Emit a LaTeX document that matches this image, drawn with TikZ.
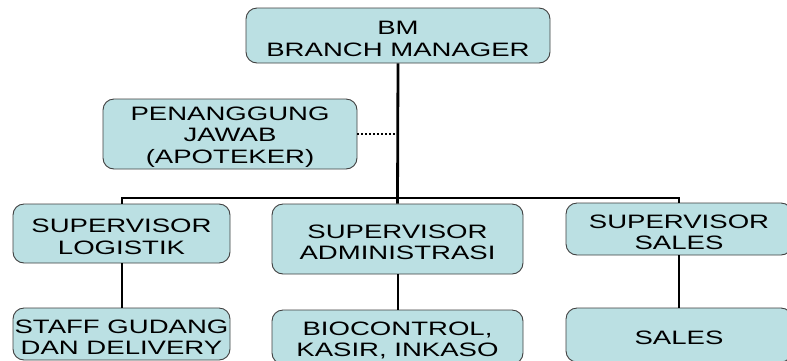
\documentclass[tikz,border=0pt]{standalone}
\usepackage{fontspec}
\setmainfont{Liberation Sans}[FakeStretch=1.42]
\definecolor{boxfill}{HTML}{BBE0E3}
\definecolor{boxline}{HTML}{404040}
\newcommand{\topstrut}{\rule{0pt}{20pt}}
\tikzset{
  orgbox/.style={draw=boxline, line width=0.9pt, fill=boxfill, rounded corners=11pt,
    inner sep=0pt, align=center, font=\fontsize{19.4}{21.2}\selectfont},
  link/.style={line width=2pt, draw=black},
  mainlink/.style={line width=2.8pt, draw=black},
  dotlink/.style={line width=1.4pt, dash pattern=on 2pt off 2pt}
}
\begin{document}
\begin{tikzpicture}[x=1pt,y=-1pt]
\clip (0,0) rectangle (787,360);
\fill[white] (0,0) rectangle (787,360);
% boxes
\node[orgbox, minimum width=304pt, minimum height=55pt] (bm) at (398,35.5) {\topstrut BM\\BRANCH MANAGER};
\node[orgbox, minimum width=254pt, minimum height=70pt] (pj) at (230,134) {\topstrut PENANGGUNG\\JAWAB\\(APOTEKER)};
\node[orgbox, minimum width=217pt, minimum height=59pt] (sl) at (121.5,233.5) {\topstrut SUPERVISOR\\LOGISTIK};
\node[orgbox, minimum width=251pt, minimum height=70pt] (sa) at (397.5,239) {\topstrut SUPERVISOR\\ADMINISTRASI};
\node[orgbox, minimum width=226pt, minimum height=52pt] (ss) at (679,229) {\topstrut SUPERVISOR\\SALES};
\node[orgbox, minimum width=217pt, minimum height=52pt] (st) at (121.5,334) {\topstrut STAFF GUDANG\\DAN DELIVERY};
\node[orgbox, minimum width=251pt, minimum height=54pt] (bc) at (397.5,337) {\topstrut BIOCONTROL,\\KASIR, INKASO};
\node[orgbox, minimum width=226pt, minimum height=54pt] (sa2) at (679,335) {\topstrut SALES};
% connectors
\coordinate (bar) at (397.5,198);
\coordinate (dot) at (397.5,134);
\draw[link] (sl.north) |- (bar) -| (ss.north);
\draw[mainlink] (bm.south) -- (sa.north);
\draw[dotlink] (pj.east) -- (dot);
\draw[link] (sl.south) -- (st.north);
\draw[link] (sa.south) -- (bc.north);
\draw[link] (ss.south) -- (sa2.north);
\end{tikzpicture}
\end{document}
